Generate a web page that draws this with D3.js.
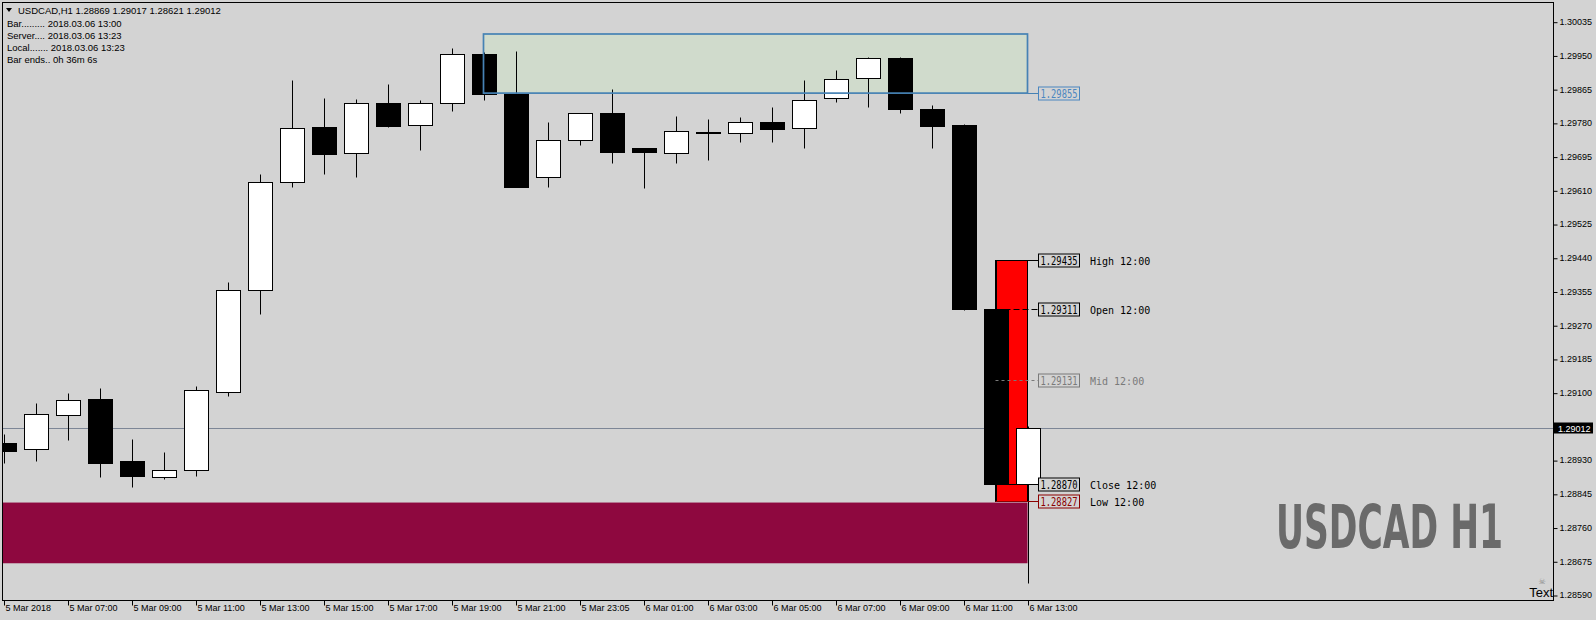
<!DOCTYPE html>
<html>
<head>
<meta charset="utf-8">
<script src="https://cdn.jsdelivr.net/npm/d3@7"></script>
<style>
body { margin: 0; background: #d3d3d3; overflow: hidden; }
svg { display: block; }
</style>
</head>
<body>
<svg id="chart"></svg>
<script>
var width = 1596, height = 620

// bar times (H1)
var barTimes = ["5 Mar 05:00", "5 Mar 06:00", "5 Mar 07:00", "5 Mar 08:00", "5 Mar 09:00", "5 Mar 10:00",
    "5 Mar 11:00", "5 Mar 12:00", "5 Mar 13:00", "5 Mar 14:00", "5 Mar 15:00", "5 Mar 16:00",
    "5 Mar 17:00", "5 Mar 18:00", "5 Mar 19:00", "5 Mar 20:00", "5 Mar 21:00", "5 Mar 22:00",
    "5 Mar 23:05", "6 Mar 00:00", "6 Mar 01:00", "6 Mar 02:00", "6 Mar 03:00", "6 Mar 04:00",
    "6 Mar 05:00", "6 Mar 06:00", "6 Mar 07:00", "6 Mar 08:00", "6 Mar 09:00", "6 Mar 10:00",
    "6 Mar 11:00", "6 Mar 12:00", "6 Mar 13:00"]
var opens = [1.28973, 1.28957, 1.29043, 1.29083, 1.28928, 1.28888, 1.28904, 1.29101, 1.29360, 1.29630, 1.29769,
    1.29703, 1.29829, 1.29774, 1.29829, 1.29954, 1.29853, 1.29643, 1.29736, 1.29804, 1.29716, 1.29703,
    1.29756, 1.29754, 1.29781, 1.29766, 1.29842, 1.29892, 1.29943, 1.29814, 1.29774, 1.29311, 1.28869]
var highs = [1.28996, 1.29073, 1.29099, 1.29112, 1.28983, 1.28951, 1.29117, 1.29379, 1.29651, 1.29887, 1.29843,
    1.29841, 1.29877, 1.29838, 1.29969, 1.29959, 1.29961, 1.29782, 1.29804, 1.29865, 1.29716, 1.29797,
    1.29790, 1.29795, 1.29819, 1.29888, 1.29913, 1.29945, 1.29945, 1.29825, 1.29776, 1.29435, 1.29017]
var lows = [1.28923, 1.28929, 1.28981, 1.28888, 1.28863, 1.28883, 1.28891, 1.29092, 1.29299, 1.29619, 1.29652,
    1.29644, 1.29770, 1.29712, 1.29811, 1.29838, 1.29619, 1.29619, 1.29725, 1.29680, 1.29617, 1.29680,
    1.29687, 1.29733, 1.29733, 1.29717, 1.29833, 1.29821, 1.29806, 1.29717, 1.29308, 1.28827, 1.28621]
var closes = [1.28953, 1.29045, 1.29081, 1.28923, 1.28891, 1.28904, 1.29106, 1.29360, 1.29630, 1.29766, 1.29702,
    1.29829, 1.29773, 1.29829, 1.29954, 1.29853, 1.29619, 1.29738, 1.29804, 1.29707, 1.29706, 1.29759,
    1.29758, 1.29781, 1.29764, 1.29837, 1.29890, 1.29943, 1.29814, 1.29773, 1.29310, 1.28870, 1.29012]

var tickBars = [0, 2, 4, 6, 8, 10, 12, 14, 16, 18, 20, 22, 24, 26, 28, 30, 32]
var tickLabels = ["5 Mar 2018", "5 Mar 07:00", "5 Mar 09:00", "5 Mar 11:00", "5 Mar 13:00", "5 Mar 15:00",
    "5 Mar 17:00", "5 Mar 19:00", "5 Mar 21:00", "5 Mar 23:05", "6 Mar 01:00", "6 Mar 03:00",
    "6 Mar 05:00", "6 Mar 07:00", "6 Mar 09:00", "6 Mar 11:00", "6 Mar 13:00"]
var priceTicks = [1.30035, 1.29950, 1.29865, 1.29780, 1.29695, 1.29610, 1.29525, 1.29440, 1.29355,
    1.29270, 1.29185, 1.29100, 1.28930, 1.28845, 1.28760, 1.28675, 1.28590]

var lastPrice = 1.29012
var levelNames = ["High 12:00", "Open 12:00", "Mid 12:00", "Close 12:00", "Low 12:00"]
var levelValues = [1.29435, 1.29311, 1.29131, 1.28870, 1.28827]
var supplyZone = [1.30004, 1.29855]   // top, bottom
var demandZone = [1.28823, 1.28670]
var infoLines = ["Bar......... 2018.03.06 13:00", "Server.... 2018.03.06 13:23",
    "Local....... 2018.03.06 13:23", "Bar ends.. 0h 36m 6s"]

var plotL = 2, plotR = 1553, plotT = 2, plotB = 600

var svg = d3.select("#chart")
    .attr("width", width)
    .attr("height", height)
    .style("font-family", "'Liberation Sans', Arial, sans-serif")

svg.append("defs").append("clipPath").attr("id", "plot")
    .append("rect")
    .attr("x", plotL).attr("y", plotT)
    .attr("width", plotR - plotL).attr("height", plotB - plotT)

var x = d3.scaleBand()
    .domain(d3.range(barTimes.length))
    .range([-12.5, 1043.5])
    .paddingInner(0.25)
    .paddingOuter(0.125)
var bw = x.bandwidth()
function cx(i) { return x(i) + bw / 2 }

var y = d3.scaleLinear()
    .domain([1.28590, 1.30035])
    .range([595, 21.7])
function py(v) { return Math.round(y(v)) + 0.5 }

var g = svg.append("g").attr("clip-path", "url(#plot)")

// demand zone (maroon)
g.append("rect")
    .attr("x", plotL)
    .attr("y", y(demandZone[0]))
    .attr("width", cx(32) - plotL)
    .attr("height", y(demandZone[1]) - y(demandZone[0]))
    .attr("fill", "#8e083f")

// supply zone fill
g.append("rect")
    .attr("x", cx(15))
    .attr("y", y(supplyZone[0]))
    .attr("width", cx(32) - cx(15))
    .attr("height", y(supplyZone[1]) - y(supplyZone[0]))
    .attr("fill", "#d0dbcc")

// last price line
g.append("line")
    .attr("x1", plotL).attr("x2", plotR)
    .attr("y1", py(lastPrice)).attr("y2", py(lastPrice))
    .attr("stroke", "#7d8696")

// previous bar range box (red)
g.append("rect")
    .attr("x", cx(31)).attr("y", py(levelValues[0]))
    .attr("width", cx(32) - cx(31))
    .attr("height", py(levelValues[4]) - py(levelValues[0]))
    .attr("fill", "#ff0000")
    .attr("stroke", "#000")

// candles
var bars = g.selectAll(".bar")
    .data(d3.range(barTimes.length))
    .enter().append("g")
    .attr("class", "bar")

bars.append("line")
    .attr("x1", function(i) { return Math.round(cx(i)) + 0.5 })
    .attr("x2", function(i) { return Math.round(cx(i)) + 0.5 })
    .attr("y1", function(i) { return py(highs[i]) })
    .attr("y2", function(i) { return py(lows[i]) })
    .attr("stroke", "#000")

bars.append("rect")
    .attr("x", function(i) { return Math.round(x(i)) + 0.5 })
    .attr("y", function(i) { return py(Math.max(opens[i], closes[i])) })
    .attr("width", bw)
    .attr("height", function(i) {
        return Math.max(1, py(Math.min(opens[i], closes[i])) - py(Math.max(opens[i], closes[i])))
    })
    .attr("fill", function(i) { return closes[i] >= opens[i] ? "#fff" : "#000" })
    .attr("stroke", "#000")

// supply zone border on top
g.append("rect")
    .attr("x", cx(15))
    .attr("y", y(supplyZone[0]))
    .attr("width", cx(32) - cx(15))
    .attr("height", y(supplyZone[1]) - y(supplyZone[0]))
    .attr("fill", "none")
    .attr("stroke", "#4682b4")
    .attr("stroke-width", 1.7)

// level labels at the right of the last bar
var boxX = 1038.5
function priceLabel(v, color, dash, name, nameColor) {
    g.append("line")
        .attr("x1", cx(31)).attr("x2", boxX)
        .attr("y1", py(v)).attr("y2", py(v))
        .attr("stroke", color)
        .attr("stroke-dasharray", dash)
    svg.append("rect")
        .attr("x", boxX).attr("y", py(v) - 6.5)
        .attr("width", 41).attr("height", 13)
        .attr("fill", "#d3d3d3")
        .attr("stroke", color)
    svg.append("text")
        .attr("x", boxX + 2).attr("y", py(v) + 4.5)
        .attr("textLength", 37).attr("lengthAdjust", "spacingAndGlyphs")
        .style("font-family", "'DejaVu Sans Mono', monospace")
        .style("font-size", "12px")
        .attr("fill", color)
        .text(d3.format(".5f")(v))
    if (name) {
        svg.append("text")
            .attr("x", 1090).attr("y", py(v) + 4)
            .style("font-family", "'DejaVu Sans Mono', monospace")
            .style("font-size", "10px")
            .attr("fill", nameColor)
            .text(name)
    }
}
// supply zone label
g.append("line")
    .attr("x1", cx(32)).attr("x2", boxX)
    .attr("y1", py(supplyZone[1])).attr("y2", py(supplyZone[1]))
    .attr("stroke", "#4682b4")
svg.append("rect")
    .attr("x", boxX).attr("y", py(supplyZone[1]) - 6.5)
    .attr("width", 41).attr("height", 13)
    .attr("fill", "#d3d3d3").attr("stroke", "#4a86c0")
svg.append("text")
    .attr("x", boxX + 2).attr("y", py(supplyZone[1]) + 4.5)
    .attr("textLength", 37).attr("lengthAdjust", "spacingAndGlyphs")
    .style("font-family", "'DejaVu Sans Mono', monospace")
    .style("font-size", "12px")
    .attr("fill", "#4a86c0")
    .text(d3.format(".5f")(supplyZone[1]))

var levelColors = ["#000", "#000", "#7a7a7a", "#000", "#8b0000"]
var nameColors = ["#000", "#000", "#7a7a7a", "#000", "#000"]
var levelDash = [null, "6,3", "3,3", null, null]
levelValues.forEach(function(v, k) {
    priceLabel(v, levelColors[k], levelDash[k], levelNames[k], nameColors[k])
})

// watermark (narrow heavy face, stretched vertically)
svg.append("text")
    .attr("transform", "translate(1276,548) scale(1,1.55)")
    .attr("textLength", 227).attr("lengthAdjust", "spacingAndGlyphs")
    .style("font-family", "'Liberation Sans Narrow', 'DejaVu Sans Condensed', 'Liberation Sans', sans-serif")
    .style("font-weight", "bold")
    .style("font-size", "39px")
    .attr("fill", "#6a6a6a")
    .text("USDCAD H1")

// frame
svg.append("rect")
    .attr("x", plotL + 0.5).attr("y", plotT + 0.5)
    .attr("width", plotR - plotL).attr("height", plotB - plotT)
    .attr("fill", "none").attr("stroke", "#000")

// right price axis
var yAxis = svg.append("g")
    .attr("transform", "translate(" + (plotR + 0.5) + ",0)")
    .call(d3.axisRight(y).tickValues(priceTicks).tickSize(4).tickPadding(2).tickFormat(d3.format(".5f")))
yAxis.select(".domain").remove()
yAxis.selectAll("line").attr("transform", "translate(0,0.5)")
yAxis.selectAll("text").style("font-family", "'Liberation Sans', Arial, sans-serif").style("font-size", "9px").attr("fill", "#000")

// current price tag
svg.append("rect")
    .attr("x", 1554).attr("y", py(lastPrice) - 6)
    .attr("width", 39).attr("height", 11)
    .attr("fill", "#000")
svg.append("text")
    .attr("x", 1558).attr("y", py(lastPrice) + 3)
    .style("font-size", "9px")
    .attr("fill", "#fff")
    .text(d3.format(".5f")(lastPrice))

// bottom time axis
var xAxis = svg.append("g")
    .attr("transform", "translate(0," + (plotB + 0.5) + ")")
    .call(d3.axisBottom(x).tickValues(tickBars).tickSize(5)
        .tickFormat(function(d) { return tickLabels[tickBars.indexOf(d)] }))
xAxis.select(".domain").remove()
xAxis.selectAll(".tick").attr("transform", function(d) { return "translate(" + (Math.round(cx(d)) + 0.5) + ",0)" })
xAxis.selectAll("text")
    .attr("text-anchor", "start")
    .attr("x", 1).attr("y", 4).attr("dy", "0.71em")
    .style("font-family", "'Liberation Sans', Arial, sans-serif")
    .style("font-size", "9px").attr("fill", "#000")

// info block top-left
svg.append("path").attr("d", "M6,8 L12,8 L9,12 Z").attr("fill", "#000")
svg.append("text")
    .attr("x", 18).attr("y", 14)
    .style("font-size", "9.5px")
    .text("USDCAD,H1  1.28869 1.29017 1.28621 1.29012")
svg.selectAll(".info")
    .data(infoLines)
    .enter().append("text")
    .attr("class", "info")
    .attr("x", 7)
    .attr("y", function(d, i) { return 26.5 + i * 12 })
    .style("font-size", "9.5px")
    .text(function(d) { return d })

// "Text" object and icon at the lower right
svg.append("text")
    .attr("x", 1542).attr("y", 584)
    .attr("text-anchor", "middle")
    .style("font-family", "'DejaVu Sans', sans-serif")
    .style("font-size", "8px")
    .attr("fill", "#8a8a8a")
    .text("\u2620")
svg.append("text")
    .attr("x", 1553).attr("y", 597)
    .attr("text-anchor", "end")
    .style("font-size", "13px")
    .text("Text")
</script>
</body>
</html>
